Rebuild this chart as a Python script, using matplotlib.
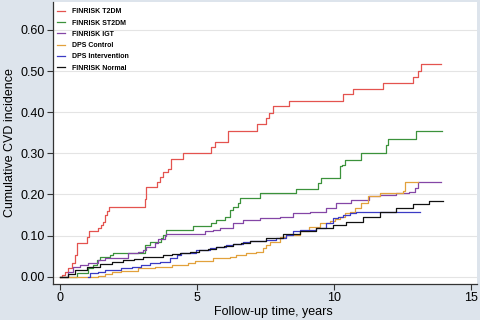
import matplotlib
matplotlib.use("Agg")
import matplotlib.pyplot as plt

plt.rcParams['font.family'] = ['Liberation Sans', 'DejaVu Sans']

# step curves: event times (years) and cumulative incidence
t2dm_t = [0, 0.06, 0.18, 0.28, 0.43, 0.55, 0.63, 1.0, 1.07, 1.4, 1.5, 1.58, 1.65, 1.73, 1.78,
          3.1, 3.16, 3.53, 3.65, 3.77, 3.95, 4.05, 4.5, 5.53, 5.66, 6.14, 7.2, 7.54, 7.64, 7.79,
          8.37, 10.34, 10.71, 11.82, 12.9, 13.08, 13.2, 13.93]
t2dm_v = [0, 0.004, 0.012, 0.022, 0.033, 0.053, 0.083, 0.097, 0.110, 0.118, 0.126, 0.134, 0.150, 0.160, 0.170,
          0.190, 0.219, 0.231, 0.243, 0.255, 0.263, 0.286, 0.300, 0.315, 0.328, 0.355, 0.372, 0.385, 0.399, 0.414,
          0.428, 0.445, 0.456, 0.471, 0.485, 0.501, 0.517, 0.517]

st2dm_t = [0, 0.61, 1.03, 1.22, 1.34, 1.46, 1.82, 1.95, 3.1, 3.28, 3.71, 3.77, 3.89, 4.87, 5.53, 5.72,
           6.02, 6.2, 6.33, 6.51, 6.57, 7.3, 8.64, 9.43, 9.55, 10.22, 10.3, 10.4, 11.0, 11.92, 12.0, 13.02, 13.95]
st2dm_v = [0, 0.008, 0.020, 0.028, 0.041, 0.049, 0.053, 0.058, 0.077, 0.085, 0.093, 0.101, 0.114, 0.124, 0.130, 0.138,
           0.146, 0.162, 0.170, 0.179, 0.191, 0.203, 0.213, 0.227, 0.239, 0.268, 0.272, 0.284, 0.300, 0.320, 0.334, 0.355, 0.355]

igt_t = [0, 0.3, 0.49, 0.73, 1.03, 1.4, 1.64, 2.49, 2.86, 3.04, 3.16, 3.47, 3.59, 3.83, 3.89, 5.29, 5.6,
         5.84, 6.33, 6.69, 7.3, 8.03, 8.5, 9.12, 9.73, 10.1, 10.65, 11.31, 11.68, 12.29, 12.77, 12.96, 13.08, 13.93]
igt_v = [0, 0.012, 0.024, 0.028, 0.034, 0.041, 0.045, 0.057, 0.061, 0.065, 0.073, 0.081, 0.091, 0.099, 0.105, 0.110, 0.114,
         0.118, 0.130, 0.138, 0.142, 0.146, 0.154, 0.158, 0.166, 0.178, 0.187, 0.195, 0.199, 0.203, 0.207, 0.215, 0.230, 0.230]

dpsc_t = [0, 1.4, 1.64, 1.89, 2.25, 2.86, 3.47, 4.08, 4.68, 4.93, 5.6, 6.2, 6.45, 6.81, 7.18, 7.42, 7.54,
          7.66, 8.03, 8.27, 8.76, 9.1, 9.49, 9.85, 10.04, 10.22, 10.4, 10.58, 10.77, 11.0, 11.25, 11.68,
          12.53, 12.59, 13.08]
dpsc_v = [0, 0.002, 0.007, 0.012, 0.015, 0.020, 0.024, 0.028, 0.033, 0.039, 0.045, 0.049, 0.053, 0.057, 0.061, 0.069, 0.077,
          0.085, 0.097, 0.101, 0.110, 0.120, 0.130, 0.136, 0.140, 0.146, 0.154, 0.158, 0.166, 0.178, 0.195, 0.204,
          0.209, 0.231, 0.231]

dpsi_t = [1.03, 1.1, 1.4, 1.64, 2.25, 2.62, 2.98, 3.28, 3.65, 4.01, 4.26, 4.44, 4.99, 5.47, 5.72, 6.08,
          6.33, 6.69, 6.93, 7.54, 7.9, 8.27, 8.5, 8.76, 9.37, 9.73, 9.97, 10.16, 10.34, 10.58, 10.83, 13.14]
dpsi_v = [0, 0.008, 0.012, 0.016, 0.020, 0.024, 0.028, 0.033, 0.036, 0.045, 0.053, 0.057, 0.065, 0.069, 0.071, 0.077,
          0.079, 0.085, 0.086, 0.088, 0.093, 0.101, 0.110, 0.114, 0.118, 0.130, 0.142, 0.146, 0.150, 0.154, 0.157, 0.157]

norm_t = [0, 0.3, 0.55, 1.0, 1.46, 1.9, 2.31, 2.7, 3.04, 3.4, 3.77, 4.1, 4.38, 4.74, 5.1, 5.4, 5.72,
          6.0, 6.33, 6.6, 6.93, 7.54, 8.15, 8.76, 9.37, 9.97, 10.46, 11.07, 11.68, 12.29, 12.9, 13.5, 13.99]
norm_v = [0, 0.007, 0.016, 0.024, 0.032, 0.036, 0.040, 0.043, 0.047, 0.049, 0.052, 0.055, 0.058, 0.061, 0.064, 0.067, 0.071,
          0.075, 0.079, 0.083, 0.087, 0.095, 0.104, 0.112, 0.118, 0.126, 0.133, 0.145, 0.157, 0.168, 0.176, 0.183, 0.183]

labels = ['FINRISK T2DM', 'FINRISK ST2DM', 'FINRISK IGT', 'DPS Control', 'DPS Intervention', 'FINRISK Normal']
colors = ['#e4534f', '#3b923b', '#8446a6', '#e2a13c', '#3b3bc4', '#111111']
series = [(t2dm_t, t2dm_v), (st2dm_t, st2dm_v), (igt_t, igt_v),
          (dpsc_t, dpsc_v), (dpsi_t, dpsi_v), (norm_t, norm_v)]

yticks = [0.0, 0.1, 0.2, 0.3, 0.4, 0.5, 0.6]
xticks = [0, 5, 10, 15]

fig = plt.figure(figsize=(4.81, 3.2), dpi=100)
fig.patch.set_facecolor('#dde4ec')
ax = fig.add_axes([0.110, 0.1125, 0.8807, 0.88125])
ax.set_facecolor('white')

for (t, v), lab, c in zip(series, labels, colors):
    ax.step(t, v, where='post', color=c, lw=0.9, label=lab)

ax.set_xlim(-0.255, 15.22)
ax.set_ylim(-0.0178, 0.668)
ax.set_yticks(yticks)
ax.set_yticklabels([f"{y:.2f}" for y in yticks])
ax.set_xticks(xticks)
ax.grid(axis='y', color='#e4e4e4', lw=0.8)
ax.set_axisbelow(True)
for s in ['top', 'right']:
    ax.spines[s].set_visible(False)
for s in ['left', 'bottom']:
    ax.spines[s].set_color('#333333')
    ax.spines[s].set_linewidth(0.9)
ax.tick_params(labelsize=9, length=4, width=0.8, color='#333333', pad=2)

ax.set_ylabel('Cumulative CVD incidence', fontsize=9, labelpad=3)
ax.set_xlabel('Follow-up time, years', fontsize=9, labelpad=1)
ax.xaxis.set_label_coords(0.521, -0.079)

ax.legend(loc='upper left', bbox_to_anchor=(0.009, 0.978), frameon=False,
          prop={'size': 5, 'weight': 'bold'}, handlelength=1.2, handletextpad=1.0,
          labelspacing=0.62, borderpad=0, borderaxespad=0)

fig.savefig('out.png', dpi=100, facecolor=fig.get_facecolor())
